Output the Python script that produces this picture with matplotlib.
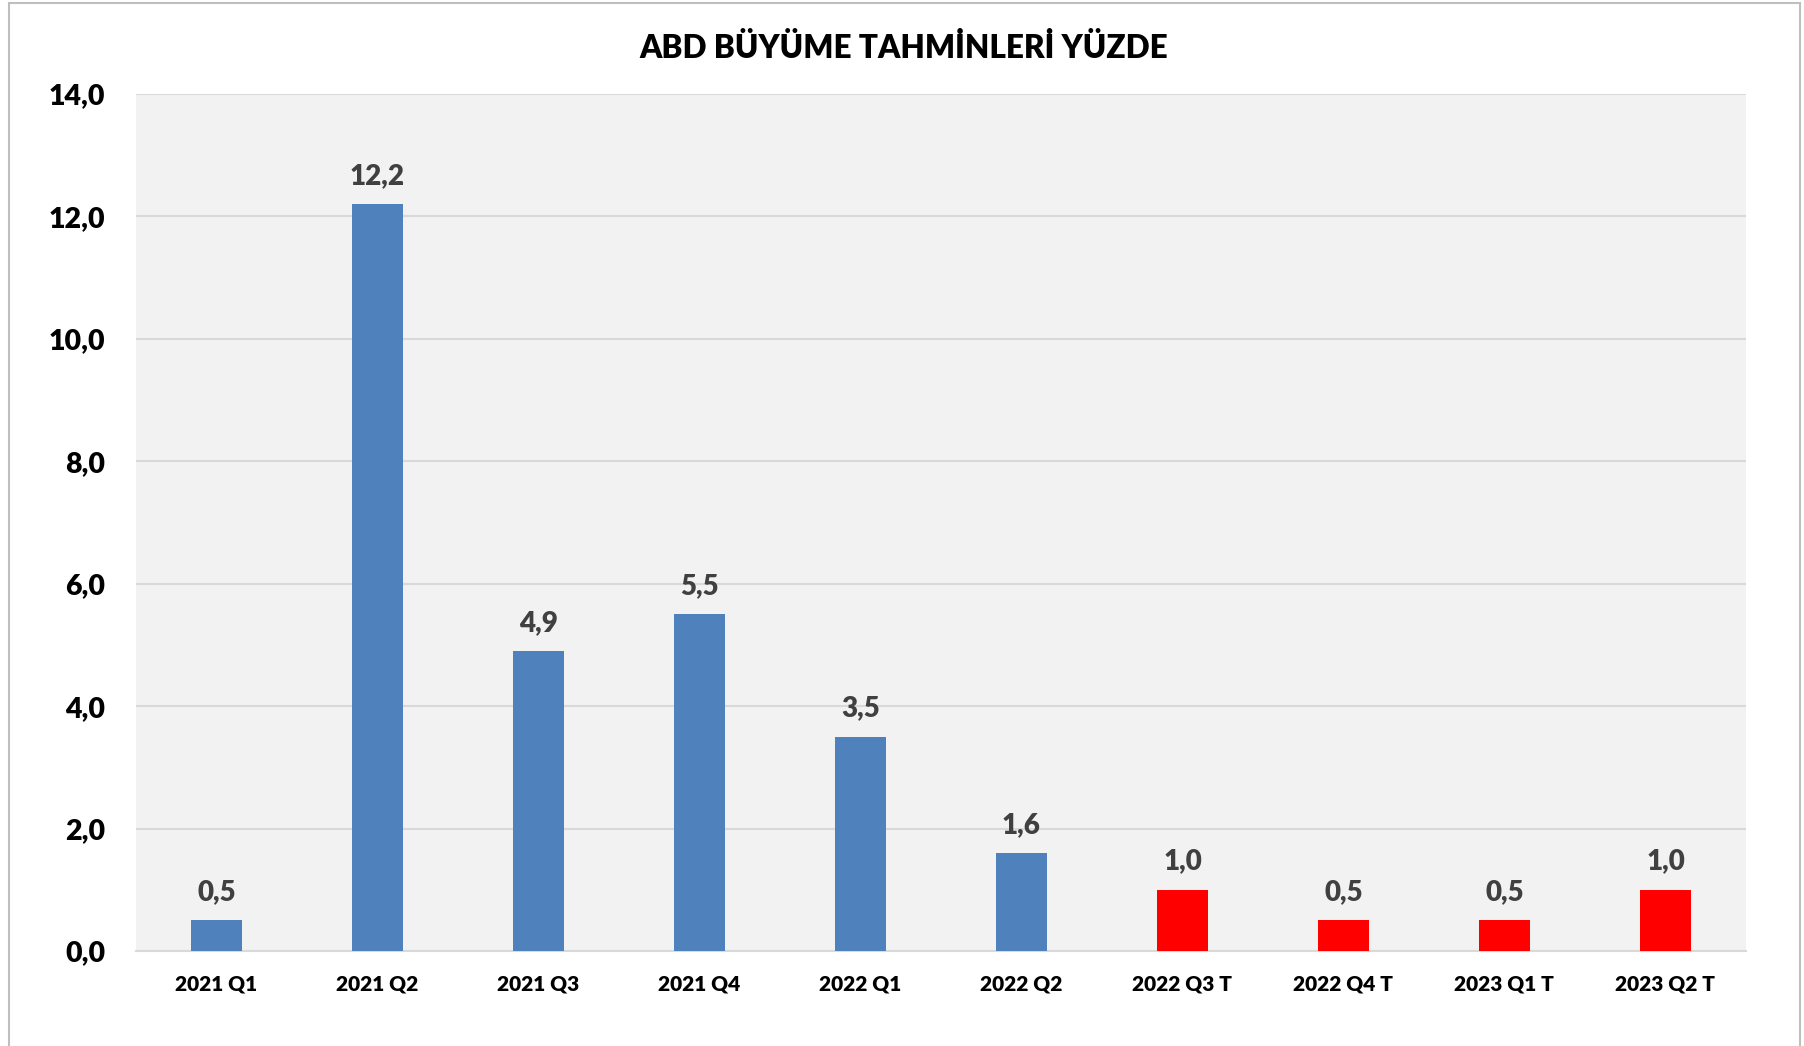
import matplotlib.pyplot as plt
from matplotlib.patches import Rectangle

plt.rcParams['font.family'] = ['Lato', 'DejaVu Sans']

# donemler ve buyume degerleri (yuzde)
donemler = ['2021 Q1', '2021 Q2', '2021 Q3', '2021 Q4', '2022 Q1',
            '2022 Q2', '2022 Q3 T', '2022 Q4 T', '2023 Q1 T', '2023 Q2 T']
degerler = [0.5, 12.2, 4.9, 5.5, 3.5, 1.6, 1.0, 0.5, 0.5, 1.0]
tahmin = [False, False, False, False, False, False, True, True, True, True]
y_ticks = [0, 2, 4, 6, 8, 10, 12, 14]

renkler = ['#FF0000' if t else '#4F81BD' for t in tahmin]

fig = plt.figure(figsize=(18.04, 10.46), dpi=100)
ax = fig.add_axes([0.0754, 0.0908, 0.8924, 0.8193])

x = list(range(len(donemler)))
bars = ax.bar(x, degerler, width=0.315, color=renkler, zorder=3)

ax.set_facecolor('#F2F2F2')
ax.set_xlim(-0.5, len(donemler) - 0.5)
ax.set_ylim(0, 14)
ax.set_yticks(y_ticks)
ax.set_yticklabels([f'{v:.1f}'.replace('.', ',') for v in y_ticks],
                   fontsize=20.5, fontweight='heavy')
ax.set_xticks(x)
ax.set_xticklabels(donemler, fontsize=15, fontweight='heavy')
ax.tick_params(axis='both', length=0)
ax.tick_params(axis='y', pad=22)
ax.tick_params(axis='x', pad=17)
ax.grid(axis='y', color='#D9D9D9', linewidth=1.5, zorder=0)
for s in ['top', 'right', 'left']:
    ax.spines[s].set_visible(False)
ax.spines['bottom'].set_color('#D9D9D9')
ax.spines['bottom'].set_linewidth(1.5)

for b, v in zip(bars, degerler):
    ax.annotate(f'{v:.1f}'.replace('.', ','),
                (b.get_x() + b.get_width() / 2, v),
                xytext=(0, 11), textcoords='offset points',
                ha='center', va='bottom', fontsize=20, fontweight='heavy',
                color='#404040')

fig.text(0.501, 0.954, 'ABD BÜYÜME TAHMİNLERİ YÜZDE', ha='center', va='center',
         fontsize=22.7, fontweight='heavy', color='black')

# cerceve
fig.patches.append(Rectangle((0.005, -0.01), 0.993, 1.007,
                             transform=fig.transFigure, fill=False,
                             edgecolor='#BFBFBF', linewidth=1.5))

fig.savefig('out.png', dpi=100)
